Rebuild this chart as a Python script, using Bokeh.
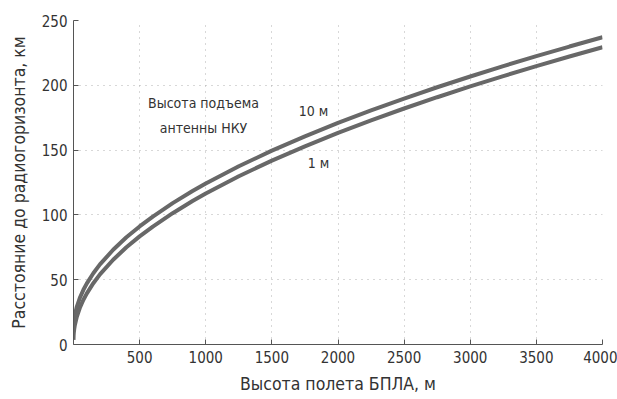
from bokeh.plotting import figure
from bokeh.models import Label, FixedTicker
from bokeh.embed import file_html
from bokeh.resources import INLINE

# Data
height_m = [0, 1, 2, 5, 10, 25, 50, 75, 100, 150, 200, 300, 400, 500, 600, 750, 900, 1000, 1250,
            1500, 1750, 2000, 2250, 2500, 2750, 3000, 3250, 3500, 3750, 4000]
dist_10m = [11.3, 14.9, 16.3, 19.3, 22.6, 29.1, 36.5, 42.2, 47.0, 55.0, 61.8, 73.1, 82.7, 91.1, 98.7,
            109.1, 118.4, 124.2, 137.5, 149.6, 160.6, 171.0, 180.6, 189.8, 198.5, 206.8, 214.8,
            222.5, 229.9, 237.1]
dist_1m = [3.6, 7.1, 8.6, 11.6, 14.9, 21.4, 28.8, 34.5, 39.3, 47.3, 54.1, 65.4, 75.0, 83.4, 91.0,
           101.3, 110.7, 116.5, 129.8, 141.9, 152.9, 163.3, 172.9, 182.1, 190.8, 199.1, 207.1,
           214.8, 222.2, 229.4]
x_ticks = [500, 1000, 1500, 2000, 2500, 3000, 3500, 4000]
y_ticks = [0, 50, 100, 150, 200, 250]

FONT = "DejaVu Sans Condensed"
TXT = "#333333"
LINE = "#686868"

p = figure(width=617, height=399, output_backend="svg", toolbar_location=None,
           x_range=(0, 4000), y_range=(0, 250),
           min_border_left=73, min_border_right=15, min_border_top=20, min_border_bottom=55)
p.outline_line_color = None
p.background_fill_color = "white"
p.border_fill_color = "white"

p.line(height_m, dist_10m, line_color=LINE, line_width=4)
p.line(height_m, dist_1m, line_color=LINE, line_width=4)

for ax, ticks in ((p.xaxis[0], x_ticks), (p.yaxis[0], y_ticks)):
    ax.ticker = FixedTicker(ticks=ticks)
    ax.major_tick_in = 5
    ax.major_tick_out = 0
    ax.minor_tick_line_color = None
    ax.axis_line_color = "#555555"
    ax.major_tick_line_color = "#555555"
    ax.major_label_text_font = FONT
    ax.major_label_text_font_size = "15px"
    ax.major_label_text_color = TXT
    ax.axis_label_text_font = FONT
    ax.axis_label_text_font_size = "17.5px"
    ax.axis_label_text_color = TXT
    ax.axis_label_text_font_style = "normal"

p.xaxis.axis_label = "Высота полета БПЛА, м"
p.yaxis.axis_label = "Расстояние до радиогоризонта, км"
p.xaxis.major_label_standoff = 6
p.xaxis.axis_label_standoff = 8
p.yaxis.major_label_standoff = 6
p.yaxis.axis_label_standoff = 10

for g in (p.xgrid[0], p.ygrid[0]):
    g.grid_line_color = "#b0b0b0"
    g.grid_line_dash = "1 5"
    g.grid_line_width = 1
p.xgrid.ticker = FixedTicker(ticks=x_ticks)
p.ygrid.ticker = FixedTicker(ticks=y_ticks)

for txt, x, y in (("Высота подъема", 983, 186), ("антенны НКУ", 983, 167),
                  ("10 м", 1815, 180.5), ("1 м", 1852, 140)):
    p.add_layout(Label(x=x, y=y, text=txt, text_font=FONT, text_font_size="14px",
                       text_color=TXT, text_align="center", text_baseline="middle"))

open("out.html", "w").write(file_html(p, INLINE))
